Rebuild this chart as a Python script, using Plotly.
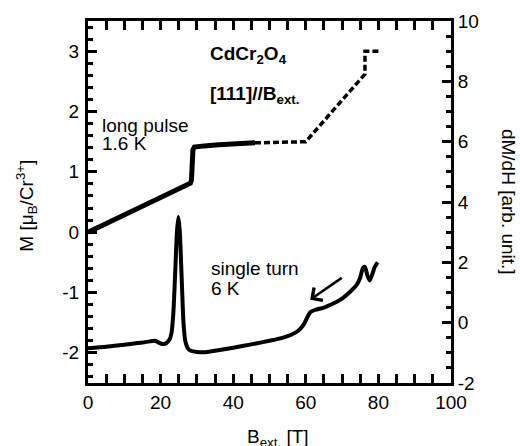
import plotly.graph_objects as go

# Long pulse magnetization (M, left axis), 1.6 K
lp_B = [0, 5, 10, 15, 20, 25, 28.2, 28.5, 28.7, 28.9, 29.3, 30, 32, 36, 40, 43, 46]
lp_M = [0.0, 0.14, 0.29, 0.43, 0.58, 0.72, 0.81, 0.86, 1.1, 1.36, 1.41, 1.42, 1.43, 1.45, 1.46, 1.47, 1.48]

# Extrapolated (dashed) part of M
ex_B = [46, 60, 76.3, 76.3, 80]
ex_M = [1.48, 1.50, 2.62, 3.0, 3.0]

# Single turn dM/dH (right axis), 6 K
st_B = [0, 5, 10, 15, 17, 18.5, 19.5, 20.5, 21.5, 22.5, 23.0, 23.5, 24.0, 24.5, 24.9,
        25.3, 25.8, 26.3, 26.8, 27.5, 28.5, 30, 32, 35, 40, 45, 50, 53, 56, 58, 59.5,
        60.5, 61.3, 62.5, 65, 67, 70, 72, 74, 75, 75.7, 76.3, 77.0, 77.6, 78.3, 79.0, 79.8]
st_D = [-0.85, -0.80, -0.73, -0.66, -0.62, -0.60, -0.66, -0.71, -0.68, -0.55, -0.35, 0.3, 1.6, 3.0, 3.5,
        3.0, 1.5, 0.0, -0.6, -0.85, -0.94, -0.97, -0.98, -0.93, -0.83, -0.72, -0.60, -0.52, -0.40, -0.26, -0.05,
        0.20, 0.35, 0.42, 0.50, 0.60, 0.80, 1.00, 1.25, 1.50, 1.80, 1.85, 1.55, 1.40, 1.60, 1.85, 2.00]

x_ticks = [0, 20, 40, 60, 80, 100]
x_labels = ["0", "20", "40", "60", "80", "100"]
yl_ticks = [-2, -1, 0, 1, 2, 3]
yl_labels = ["-2", "-1", "0", "1", "2", "3"]
yr_ticks = [-2, 0, 2, 4, 6, 8, 10]
yr_labels = ["-2", "0", "2", "4", "6", "8", "10"]

FONT = "Liberation Sans, Arial, Helvetica, sans-serif"

fig = go.Figure()
fig.add_trace(go.Scatter(x=lp_B, y=lp_M, mode="lines", line=dict(color="black", width=5), yaxis="y"))
fig.add_trace(go.Scatter(x=ex_B, y=ex_M, mode="lines", line=dict(color="black", width=3.5, dash="6px,3px"), yaxis="y"))
fig.add_trace(go.Scatter(x=st_B, y=st_D, mode="lines", line=dict(color="black", width=4, shape="spline", smoothing=0.6), yaxis="y2"))

axis_common = dict(showline=True, linecolor="black", linewidth=3, ticks="inside",
                   tickcolor="black", tickwidth=2.5, ticklen=9, showgrid=False, zeroline=False,
                   tickfont=dict(family=FONT, size=19, color="black"))

fig.update_layout(
    width=520, height=446,
    margin=dict(l=88, r=69, t=21, b=63),
    paper_bgcolor="white", plot_bgcolor="white",
    showlegend=False,
    font=dict(family=FONT, size=19, color="black"),
    xaxis=dict(range=[0, 100], tickvals=x_ticks, ticktext=x_labels, mirror="allticks",
               minor=dict(ticks="inside", dtick=5, ticklen=5, tickwidth=2.5, tickcolor="black"),
               **axis_common),
    yaxis=dict(range=[-2.5, 3.5], tickvals=yl_ticks, ticktext=yl_labels,
               minor=dict(ticks="inside", dtick=0.2, tick0=0, ticklen=5, tickwidth=2.5, tickcolor="black"),
               ticklabelstandoff=2,
               **axis_common),
    yaxis2=dict(range=[-2, 10], tickvals=yr_ticks, ticktext=yr_labels, overlaying="y", side="right",
                minor=dict(ticks="inside", dtick=0.5, ticklen=5, tickwidth=2.5, tickcolor="black"),
                **axis_common),
)

ann = []
def txt(x, y, s, bold=False, size=19, yref="y", xanchor="left"):
    ann.append(dict(x=x, y=y, xref="x", yref=yref, text=f"<b>{s}</b>" if bold else s,
                    showarrow=False, xanchor=xanchor, yanchor="middle",
                    font=dict(family=FONT, size=size, color="black")))

txt(33.0, 2.93, "CdCr<sub>2</sub>O<sub>4</sub>", bold=True, size=19)
txt(33.0, 2.28, "[111]//B<sub>ext.</sub>", bold=True, size=19)
txt(3.3, 1.76, "long pulse")
txt(3.3, 1.47, "1.6 K")
txt(33.2, -0.61, "single turn")
txt(33.2, -0.94, "6 K")

# arrow
ann.append(dict(x=61.2, y=-1.12, ax=70.3, ay=-0.74, xref="x", yref="y", axref="x", ayref="y",
                showarrow=True, arrowhead=4, arrowsize=1.2, arrowwidth=2.5, arrowcolor="black", text=""))

# axis titles
ann.append(dict(x=-0.168, y=0.49, xref="paper", yref="paper", text="M [μ<sub>B</sub>/Cr<sup>3+</sup>]",
                textangle=-90, showarrow=False, xanchor="center", yanchor="middle",
                font=dict(family=FONT, size=19, color="black")))
ann.append(dict(x=1.16, y=0.50, xref="paper", yref="paper", text="dM/dH [arb. unit.]",
                textangle=90, showarrow=False, xanchor="center", yanchor="middle",
                font=dict(family=FONT, size=19, color="black")))
ann.append(dict(x=0.523, y=-0.113, xref="paper", yref="paper", text="B<sub>ext.</sub> [T]",
                showarrow=False, xanchor="center", yanchor="top",
                font=dict(family=FONT, size=19, color="black")))

fig.update_layout(annotations=ann)
fig.write_html("out.html", config={"displayModeBar": False},
               post_script="document.body.style.margin='0';document.body.style.overflow='hidden';")
